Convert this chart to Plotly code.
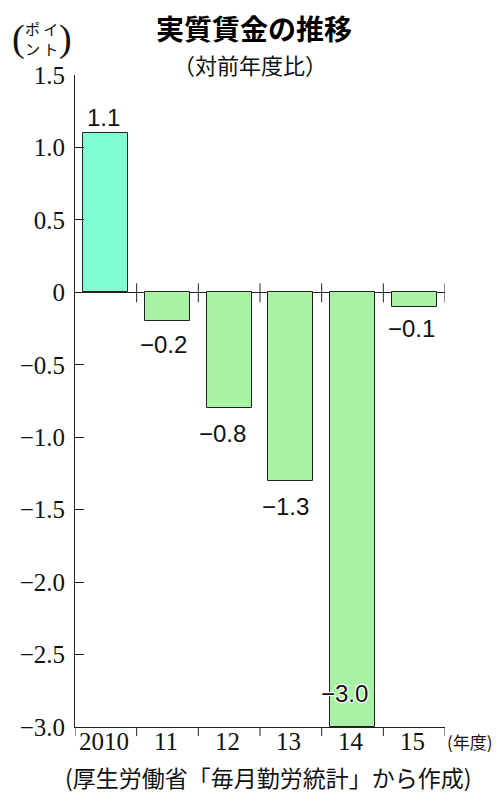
import plotly.graph_objects as go

years = ["2010", "11", "12", "13", "14", "15"]
values = [1.1, -0.2, -0.8, -1.3, -3.0, -0.1]
labels = ["1.1", "−0.2", "−0.8", "−1.3", "−3.0", "−0.1"]
ytick_vals = [1.5, 1.0, 0.5, 0, -0.5, -1.0, -1.5, -2.0, -2.5, -3.0]
ytick_text = ["1.5", "1.0", "0.5", "0", "−0.5", "−1.0", "−1.5", "−2.0", "−2.5", "−3.0"]

bar_colors = ["#82FFD2"] + ["#A8F2A4"] * 5
# label offsets (pixels) relative to bar end
label_yshift = [15, -23, -25, -26, 34, -22]
label_xshift = [-2, -4, -7, -5, -8, -3]

SERIF = "Liberation Serif, DejaVu Serif, serif"
SANS = "Liberation Sans, Arial, sans-serif"
CJK = "Noto Sans CJK JP"
HALO = "1px 1px 1px white, -1px -1px 1px white, 1px -1px 1px white, -1px 1px 1px white"

xs = list(range(len(years)))

fig = go.Figure()
fig.add_trace(go.Bar(
    x=xs, y=values, width=0.73,
    marker=dict(color=bar_colors, line=dict(color="#222222", width=1)),
    hoverinfo="skip",
))

for i, (v, t) in enumerate(zip(values, labels)):
    fig.add_annotation(
        x=xs[i], y=v, xref="x", yref="y", text=t, showarrow=False,
        yshift=label_yshift[i], xshift=label_xshift[i],
        font=dict(family=SANS, size=24, color="#111111",
                  shadow=HALO if i == 4 else "none"),
    )

# category labels under the bottom axis, placed through the x scale
for i, yr in enumerate(years):
    fig.add_annotation(
        x=xs[i], xref="x", y=0, yref="paper", text=yr, showarrow=False,
        xanchor="center", yanchor="middle", yshift=-14, xshift=-2,
        font=dict(family=SERIF, size=25, color="#111111"),
    )

# crossing ticks on the zero line at category boundaries
for b in [x + 0.5 for x in xs]:
    fig.add_shape(type="line", xref="x", yref="y", x0=b, x1=b,
                  ysizemode="pixel", yanchor=0, y0=-10, y1=9,
                  line=dict(color="#222222", width=1))

# the page body has an 8px margin: size the figure to fit inside the window
fig.update_layout(
    width=486, height=785,
    margin=dict(l=60, r=49, t=67, b=66),
    paper_bgcolor="white", plot_bgcolor="white",
    showlegend=False, bargap=0,
    xaxis=dict(
        range=[-0.5, 5.5], tickmode="array", tickvals=xs, ticktext=years,
        showticklabels=False,
        showline=True, linecolor="#222222", linewidth=1,
        ticks="", showgrid=False, zeroline=False,
    ),
    yaxis=dict(
        range=[-3.0, 1.5], tickmode="array", tickvals=ytick_vals, ticktext=ytick_text,
        showline=True, linecolor="#222222", linewidth=1,
        ticks="inside", ticklen=9, tickcolor="#222222",
        showgrid=False, zeroline=True, zerolinecolor="#222222", zerolinewidth=1,
        tickfont=dict(family=SERIF, size=25, color="#111111"),
        ticklabelstandoff=4,
    ),
)

# bottom axis boundary ticks (downward)
for b in [x - 0.5 for x in xs] + [5.5]:
    fig.add_shape(type="line", xref="x", yref="paper", x0=b, x1=b,
                  ysizemode="pixel", yanchor=0, y0=0, y1=-9,
                  line=dict(color="#222222", width=1))

fig.add_annotation(text="実質賃金の推移", x=0.5, xref="paper", y=1, yref="paper",
                   xanchor="center", yanchor="middle", yshift=47, xshift=-6, showarrow=False,
                   font=dict(family=CJK, size=28, color="#000000", weight="bold"))
fig.add_annotation(text="（対前年度比）", x=0.5, xref="paper", y=1, yref="paper",
                   xanchor="center", yanchor="middle", yshift=11, xshift=-10, showarrow=False,
                   font=dict(family=CJK, size=22, color="#111111"))
fig.add_annotation(text="(", x=0, xref="paper", y=1, yref="paper", xshift=-57, yshift=37,
                   xanchor="center", yanchor="middle", showarrow=False,
                   font=dict(family=SERIF, size=38, color="#111111"))
fig.add_annotation(text=")", x=0, xref="paper", y=1, yref="paper", xshift=-10, yshift=37,
                   xanchor="center", yanchor="middle", showarrow=False,
                   font=dict(family=SERIF, size=38, color="#111111"))
fig.add_annotation(text="ポ イ<br>ン ト", x=0, xref="paper", y=1, yref="paper", xshift=-34, yshift=37,
                   xanchor="center", yanchor="middle", showarrow=False,
                   font=dict(family=CJK, size=15, color="#111111"))
fig.add_annotation(text="(年度)", x=1, xref="paper", y=0, yref="paper", xshift=0, yshift=-14,
                   xanchor="left", yanchor="middle", showarrow=False,
                   font=dict(family=CJK, size=17, color="#111111"))
fig.add_annotation(text="(厚生労働省「毎月勤労統計」から作成)", x=0.5, xref="paper", y=0, yref="paper",
                   xshift=8, yshift=-50, xanchor="center", yanchor="middle", showarrow=False,
                   font=dict(family=CJK, size=23, color="#111111"))

fig.write_html("out.html")
